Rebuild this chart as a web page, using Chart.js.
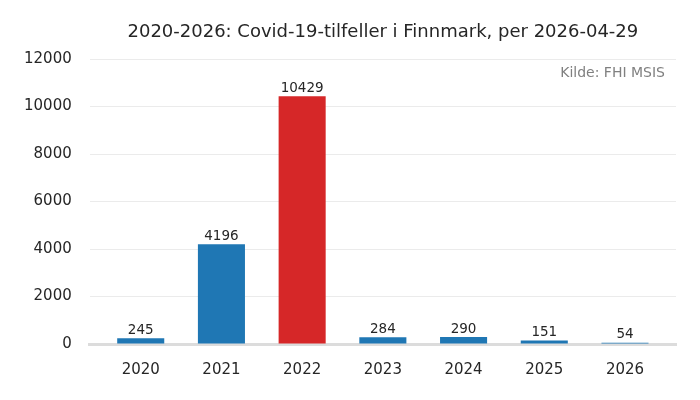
<!DOCTYPE html>
<html>
<head>
<meta charset="utf-8">
<script src="https://cdn.jsdelivr.net/npm/chart.js@4"></script>
<style>
  html, body { margin: 0; padding: 0; background: #fff; }
  #wrap { width: 700px; height: 400px; }
</style>
</head>
<body>
<div id="wrap"><canvas id="chart"></canvas></div>
<script>
const years = ['2020', '2021', '2022', '2023', '2024', '2025', '2026'];
const cases = [245, 4196, 10429, 284, 290, 151, 54];
const yTicks = [0, 2000, 4000, 6000, 8000, 10000, 12000];
const titleText = '2020-2026: Covid-19-tilfeller i Finnmark, per 2026-04-29';
const sourceText = 'Kilde: FHI MSIS';

const maxIdx = cases.indexOf(Math.max(...cases));
const barColors = cases.map((v, i) => i === maxIdx ? '#d62728' : '#1f77b4');
const points = cases.map((v, i) => ({ x: i, y: v }));

// value labels, title and source note
const extras = {
  id: 'extras',
  afterDraw(chart) {
    const ctx = chart.ctx;
    const area = chart.chartArea;
    ctx.save();
    ctx.fillStyle = '#262626';
    ctx.font = '13.5px "DejaVu Sans", sans-serif';
    ctx.textAlign = 'center';
    ctx.textBaseline = 'bottom';
    chart.getDatasetMeta(0).data.forEach((bar, i) => {
      ctx.fillText(String(cases[i]), bar.x, bar.y - 1);
    });

    ctx.font = '18px "DejaVu Sans", sans-serif';
    ctx.fillStyle = '#262626';
    ctx.textBaseline = 'middle';
    ctx.fillText(titleText, (area.left + area.right) / 2, 32);

    ctx.font = '14px "DejaVu Sans", sans-serif';
    ctx.fillStyle = '#808080';
    ctx.textAlign = 'right';
    ctx.fillText(sourceText, area.right - 11, 73);
    ctx.restore();
  }
};

new Chart(document.getElementById('chart'), {
  type: 'bar',
  data: {
    datasets: [{
      data: points,
      backgroundColor: barColors,
      borderWidth: 0,
      barPercentage: 0.583,
      categoryPercentage: 1
    }]
  },
  options: {
    responsive: true,
    maintainAspectRatio: false,
    animation: false,
    layout: { padding: { top: 59, left: 6, right: 24, bottom: 12 } },
    plugins: {
      legend: { display: false },
      tooltip: { enabled: false }
    },
    scales: {
      x: {
        type: 'linear',
        offset: false,
        min: -0.632,
        max: years.length - 1 + 0.632,
        z: 1,
        afterBuildTicks(axis) { axis.ticks = years.map((y, i) => ({ value: i })); },
        grid: { display: false },
        border: { color: '#dcdcdc', width: 3 },
        ticks: {
          color: '#262626',
          font: { size: 15, family: '"DejaVu Sans", sans-serif' },
          padding: 9,
          callback: v => years[v]
        }
      },
      y: {
        min: 0,
        max: 12000,
        afterBuildTicks(axis) { axis.ticks = yTicks.map(v => ({ value: v })); },
        grid: { color: '#ebebeb', lineWidth: 1, drawTicks: false },
        border: { display: false },
        ticks: {
          color: '#262626',
          font: { size: 15, family: '"DejaVu Sans", sans-serif' },
          padding: 18,
          callback: v => String(v)
        }
      }
    }
  },
  plugins: [extras]
});
</script>
</body>
</html>
